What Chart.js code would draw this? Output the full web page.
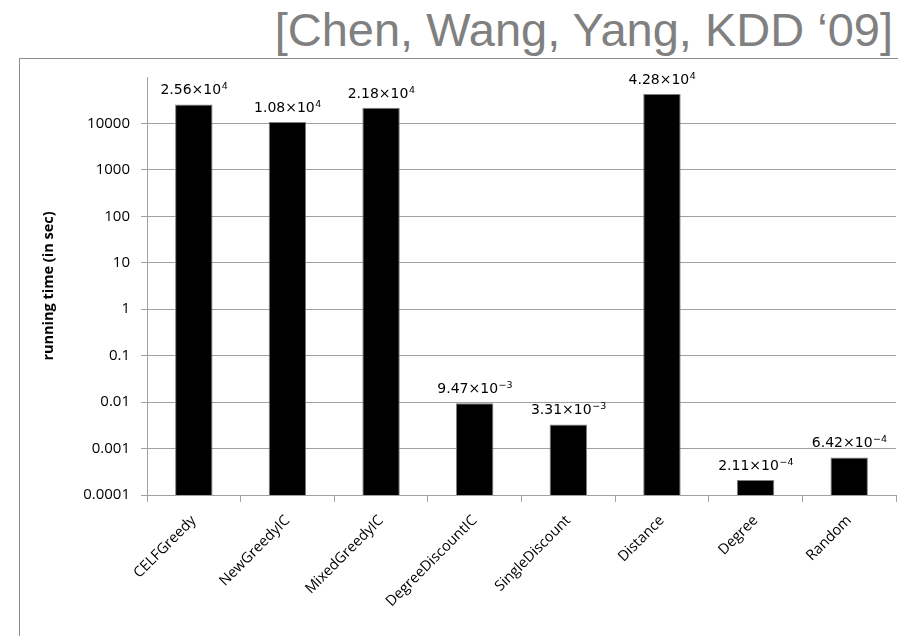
<!DOCTYPE html>
<html>
<head>
<meta charset="utf-8">
<title>running time</title>
<script src="https://cdn.jsdelivr.net/npm/chart.js@4.4.0/dist/chart.umd.min.js"></script>
<style>
    html, body { margin: 0; padding: 0; background: #fff; }
    #wrap { position: relative; width: 898px; height: 636px; overflow: hidden; }
    #frame {
        position: absolute; left: 19px; top: 58px; right: 0; bottom: 0;
        border-top: 1px solid #8c8c8c; border-left: 1px solid #8c8c8c;
    }
    #cite {
        position: absolute; right: 5px; top: 6px;
        font-family: 'Liberation Sans', Arial, sans-serif;
        font-size: 47px; line-height: 47px; color: #808080; white-space: nowrap;
    }
    #chartBox { position: absolute; left: 0; top: 0; width: 898px; height: 636px; }
</style>
</head>
<body>
<div id="wrap">
    <div id="frame"></div>
    <div id="cite">[Chen, Wang, Yang, KDD ‘09]</div>
    <div id="chartBox"><canvas id="timeChart"></canvas></div>
</div>
<script>
const categories = ['CELFGreedy', 'NewGreedyIC', 'MixedGreedyIC', 'DegreeDiscountIC',
                    'SingleDiscount', 'Distance', 'Degree', 'Random'];
const runningTimes = [2.56e4, 1.08e4, 2.18e4, 9.47e-3, 3.31e-3, 4.28e4, 2.11e-4, 6.42e-4];
const tickValues = [1e-4, 1e-3, 1e-2, 1e-1, 1, 10, 100, 1000, 10000];
const tickLabels = ['0.0001', '0.001', '0.01', '0.1', '1', '10', '100', '1000', '10000'];

const AXIS_GREY = '#a0a0a0';

// value above each bar written as m.mm×10^e
const valueLabels = {
    id: 'valueLabels',
    afterDatasetsDraw(chart) {
        const ctx = chart.ctx;
        const meta = chart.getDatasetMeta(0);
        meta.data.forEach((bar, i) => {
            const v = runningTimes[i];
            const exp = Math.floor(Math.log10(v));
            const base = (v / Math.pow(10, exp)).toFixed(2) + '\u00d710';
            const sup = (exp < 0 ? '\u2212' : '') + Math.abs(exp);
            ctx.save();
            ctx.fillStyle = '#000';
            ctx.textBaseline = 'alphabetic';
            ctx.font = '14px "DejaVu Sans"';
            const w1 = ctx.measureText(base).width;
            ctx.font = '9.5px "DejaVu Sans"';
            const w2 = ctx.measureText(sup).width;
            const x0 = bar.x - (w1 + w2) / 2;
            const y0 = bar.y - 10;
            ctx.font = '14px "DejaVu Sans"';
            ctx.fillText(base, x0, y0);
            ctx.font = '9.5px "DejaVu Sans"';
            ctx.fillText(sup, x0 + w1 + 0.5, y0 - 5);
            ctx.restore();
        });
    }
};

new Chart(document.getElementById('timeChart'), {
    type: 'bar',
    data: {
        labels: categories,
        datasets: [{
            data: runningTimes,
            backgroundColor: '#000',
            borderColor: '#7f7f7f',
            borderWidth: 1,
            barPercentage: 0.4,
            categoryPercentage: 1
        }]
    },
    options: {
        responsive: true,
        maintainAspectRatio: false,
        animation: false,
        layout: { padding: { top: 77, right: 2, left: 0, bottom: 0 } },
        plugins: {
            legend: { display: false },
            tooltip: { enabled: false }
        },
        scales: {
            x: {
                grid: {
                    offset: true,
                    drawOnChartArea: false,
                    drawTicks: true,
                    tickLength: 7,
                    color: AXIS_GREY
                },
                border: { display: true, color: AXIS_GREY },
                ticks: {
                    minRotation: 45,
                    maxRotation: 45,
                    autoSkip: false,
                    padding: 10,
                    color: '#000',
                    font: { family: 'Open Sans', size: 14.5 }
                },
                afterFit: (scale) => { scale.height = 141; }
            },
            y: {
                type: 'logarithmic',
                min: 1e-4,
                max: 1e5,
                afterBuildTicks: (scale) => {
                    scale.ticks = tickValues.map(v => ({ value: v }));
                },
                afterFit: (scale) => { scale.width = 147; },
                grid: { color: AXIS_GREY, tickLength: 6 },
                border: { color: AXIS_GREY },
                ticks: {
                    padding: 11,
                    color: '#000',
                    font: { family: 'Open Sans', size: 15 },
                    callback: (value, index) => tickLabels[index]
                },
                title: {
                    display: true,
                    text: 'running time (in sec)',
                    color: '#000',
                    font: { family: 'Open Sans', size: 14.5, weight: 'bold' },
                    padding: { top: 40, bottom: 0 }
                }
            }
        }
    },
    plugins: [valueLabels]
});
</script>
</body>
</html>
